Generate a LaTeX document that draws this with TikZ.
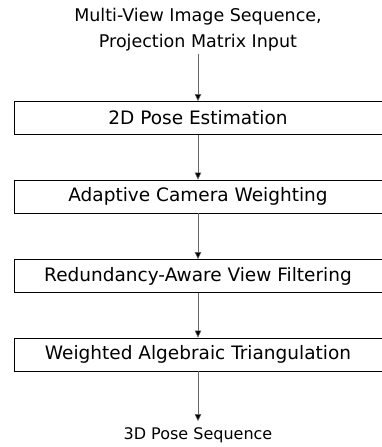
\documentclass[tikz,border=0pt]{standalone}
\usepackage{fontspec}
\setmainfont{DejaVu Sans}
\usetikzlibrary{arrows.meta}
\begin{document}
\begin{tikzpicture}[x=1pt,y=-1pt,
    stage/.style={draw, line width=0.8pt, minimum width=368pt, minimum height=33pt, inner sep=0pt, font=\fontsize{18.5}{20}\selectfont},
    flow/.style={draw=black!60, line width=0.6pt, -{Triangle[length=7pt,width=6.5pt,fill=black]}}]
    \useasboundingbox (0,0) rectangle (382,447);
    \node[align=center, font=\fontsize{17.5}{26}\selectfont, inner sep=2pt] (input) at (198,30) {Multi-View Image Sequence,\\Projection Matrix Input};
    \node[stage] (pose) at (198,118) {2D Pose Estimation};
    \node[stage] (weight) at (198,196.5) {Adaptive Camera Weighting};
    \node[stage] (filter) at (198,276) {Redundancy-Aware View Filtering};
    \node[stage] (triang) at (198,354.5) {Weighted Algebraic Triangulation};
    \node[font=\fontsize{16}{19}\selectfont, inner sep=6pt] (output) at (198,435) {3D Pose Sequence};
    \draw[flow] (input) -- (pose);
    \draw[flow] (pose) -- (weight);
    \draw[flow] (weight) -- (filter);
    \draw[flow] (filter) -- (triang);
    \draw[flow] (triang) -- (output);
\end{tikzpicture}
\end{document}
